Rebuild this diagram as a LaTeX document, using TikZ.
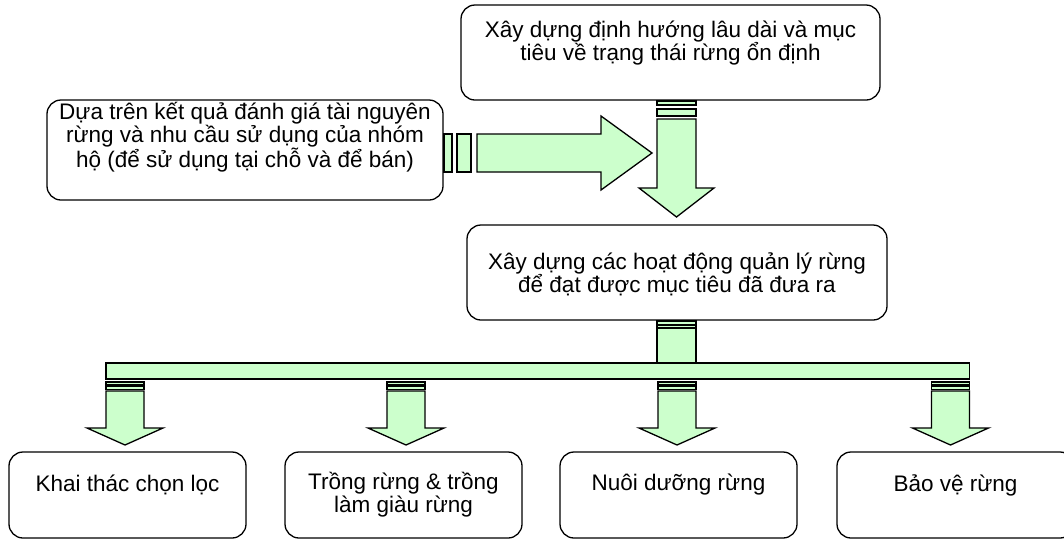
\documentclass[tikz,border=0pt]{standalone}
\usepackage{fontspec}
\setmainfont{Liberation Sans}
\definecolor{arrowfill}{HTML}{CCFFCC}
\tikzset{
  box/.style={draw=black, line width=1.3pt, rounded corners=14pt, fill=white,
    inner sep=0pt, outer sep=0pt},
  fat/.style={draw=black, line width=1.3pt, fill=arrowfill, line join=miter},
  txt/.style={font=\fontsize{22.5}{23}\selectfont, align=center, inner sep=0pt}
}
\newcommand{\downarrowshape}[1]{%
  \draw[fat] (#1-19,382) rectangle (#1+19,385);
  \draw[fat] (#1-19,386.5) rectangle (#1+19,389.5);
  \draw[fat] (#1-19,391) -- (#1+19,391) -- (#1+19,428) -- (#1+38,428) -- (#1,445)
     -- (#1-38,428) -- (#1-19,428) -- cycle;}
\begin{document}
\begin{tikzpicture}[x=1pt,y=-1pt]
\useasboundingbox (0,0) rectangle (1064,539);
% boxes
\node[box, minimum width=419pt, minimum height=95pt] (top) at (670.5,52.5) {};
\node[txt] (toptxt) at (670.5,43) {Xây dựng định hướng lâu dài và mục\\tiêu về trạng thái rừng ổn định};
\node[box, minimum width=396pt, minimum height=100pt] (left) at (245,150) {};
\node[txt] (lefttxt) at (245,137) {Dựa trên kết quả đánh giá tài nguyên\\rừng và nhu cầu sử dụng của nhóm\\hộ (để sử dụng tại chỗ và để bán)};
\node[box, minimum width=420pt, minimum height=95pt] (mid) at (677,272.5) {};
\node[txt] (midtxt) at (677,274) {Xây dựng các hoạt động quản lý rừng\\để đạt được mục tiêu đã đưa ra};
\node[box, minimum width=237pt, minimum height=86pt] (b1) at (127.5,495) {};
\node[txt] (b1txt) at (127.5,485) {Khai thác chọn lọc};
\node[box, minimum width=237pt, minimum height=86pt] (b2) at (403.5,495) {};
\node[txt] (b2txt) at (403.5,495) {Trồng rừng \& trồng\\làm giàu rừng};
\node[box, minimum width=237pt, minimum height=86pt] (b3) at (678.5,495) {};
\node[txt] (b3txt) at (678.5,485) {Nuôi dưỡng rừng};
\node[box, minimum width=237pt, minimum height=86pt] (b4) at (955.5,495) {};
\node[txt] (b4txt) at (955.5,485) {Bảo vệ rừng};
% horizontal striped arrow
\draw[fat] (444,134) rectangle (452,172);
\draw[fat] (457,134) rectangle (471,172);
\draw[fat] (477,134) -- (601,134) -- (601,116) -- (652,153) -- (601,190) -- (601,172) -- (477,172) -- cycle;
% down striped arrow from top box
\draw[fat] (657,101) rectangle (696,105);
\draw[fat] (657,109) rectangle (696,116);
\draw[fat] (657,119) -- (696,119) -- (696,188) -- (714,188) -- (676.5,217) -- (639,188) -- (657,188) -- cycle;
% connector from middle box to bar
\draw[fat] (657,321) rectangle (696,324.5);
\draw[fat] (657,325.5) rectangle (696,327.5);
\draw[fat] (657,328.5) rectangle (696,365);
% bar
\draw[fat] (106,363) rectangle (969.5,379);
% down arrows to the four boxes
\downarrowshape{125}
\downarrowshape{406}
\downarrowshape{677}
\downarrowshape{950.5}
\end{tikzpicture}
\end{document}
